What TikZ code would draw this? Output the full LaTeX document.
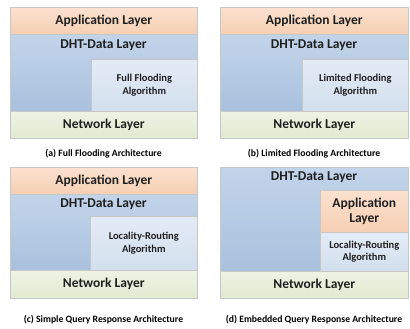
\documentclass[tikz,border=0pt]{standalone}
\usepackage{fontspec}
\setmainfont{Carlito}
\begin{document}
\begin{tikzpicture}[x=1pt,y=-1pt,
  layer/.style={draw=black!22, line width=0.6pt, inner sep=0pt, anchor=north west,
    align=center, text=black!88, font=\bfseries\fontsize{13.5}{15}\selectfont},
  applayer/.style={layer, top color=appTop, bottom color=appBot},
  dhtlayer/.style={layer, top color=dhtTop, bottom color=dhtBot},
  algobox/.style={layer, top color=algTop, bottom color=algBot,
    font=\bfseries\fontsize{10.5}{12.5}\selectfont},
  netlayer/.style={layer, top color=netTop, bottom color=netBot},
  dhtlabel/.style={anchor=north, inner sep=0pt, text=black!88,
    font=\bfseries\fontsize{13.5}{15}\selectfont},
  caption/.style={inner sep=0pt, font=\bfseries\fontsize{9.7}{12}\selectfont}]
\definecolor{appTop}{HTML}{FBE1CF}
\definecolor{appBot}{HTML}{F6CFB4}
\definecolor{dhtTop}{HTML}{C2D4EA}
\definecolor{dhtBot}{HTML}{A9C1DE}
\definecolor{algTop}{HTML}{E3EBF5}
\definecolor{algBot}{HTML}{D3DFEE}
\definecolor{netTop}{HTML}{EEF3E3}
\definecolor{netBot}{HTML}{E2EAD1}
\useasboundingbox[fill=white] (0,0) rectangle (410,329);

% (a) full flooding
\node[applayer, minimum width=187pt, minimum height=27pt] (appA) at (10,7) {Application Layer};
\node[dhtlayer, minimum width=187pt, minimum height=77pt] (dhtA) at (10,34) {};
\node[dhtlabel] (dhtAl) at (103.5,40) {DHT-Data Layer};
\node[algobox, minimum width=106pt, minimum height=52pt] (algA) at (91,59) {Full Flooding\\Algorithm};
\node[netlayer, minimum width=187pt, minimum height=27pt] (netA) at (10,111) {Network Layer};
\node[caption] (capA) at (103.5,154) {(a) Full Flooding Architecture};

% (b) limited flooding
\node[applayer, minimum width=188pt, minimum height=27pt] (appB) at (220,7) {Application Layer};
\node[dhtlayer, minimum width=188pt, minimum height=77pt] (dhtB) at (220,34) {};
\node[dhtlabel] (dhtBl) at (314,40) {DHT-Data Layer};
\node[algobox, minimum width=106pt, minimum height=52pt] (algB) at (302,59) {Limited Flooding\\Algorithm};
\node[netlayer, minimum width=188pt, minimum height=27pt] (netB) at (220,111) {Network Layer};
\node[caption] (capB) at (314,154) {(b) Limited Flooding Architecture};

% (c) simple query response
\node[applayer, minimum width=187pt, minimum height=27pt] (appC) at (10,167) {Application Layer};
\node[dhtlayer, minimum width=187pt, minimum height=76pt] (dhtC) at (10,194) {};
\node[dhtlabel] (dhtCl) at (103.5,199) {DHT-Data Layer};
\node[algobox, minimum width=107pt, minimum height=54pt] (algC) at (90,216) {Locality-Routing\\Algorithm};
\node[netlayer, minimum width=187pt, minimum height=28pt] (netC) at (10,270) {Network Layer};
\node[caption] (capC) at (103.5,320) {(c) Simple Query Response Architecture};

% (d) embedded query response
\node[dhtlayer, minimum width=188pt, minimum height=104pt] (dhtD) at (220,167) {};
\node[dhtlabel] (dhtDl) at (314,172) {DHT-Data Layer};
\node[applayer, minimum width=88pt, minimum height=42pt] (appD) at (320,190) {Application\\Layer};
\node[algobox, minimum width=88pt, minimum height=39pt] (algD) at (320,232) {Locality-Routing\\Algorithm};
\node[netlayer, minimum width=188pt, minimum height=27pt] (netD) at (220,271) {Network Layer};
\node[caption] (capD) at (314,320) {(d) Embedded Query Response Architecture};
\end{tikzpicture}
\end{document}
